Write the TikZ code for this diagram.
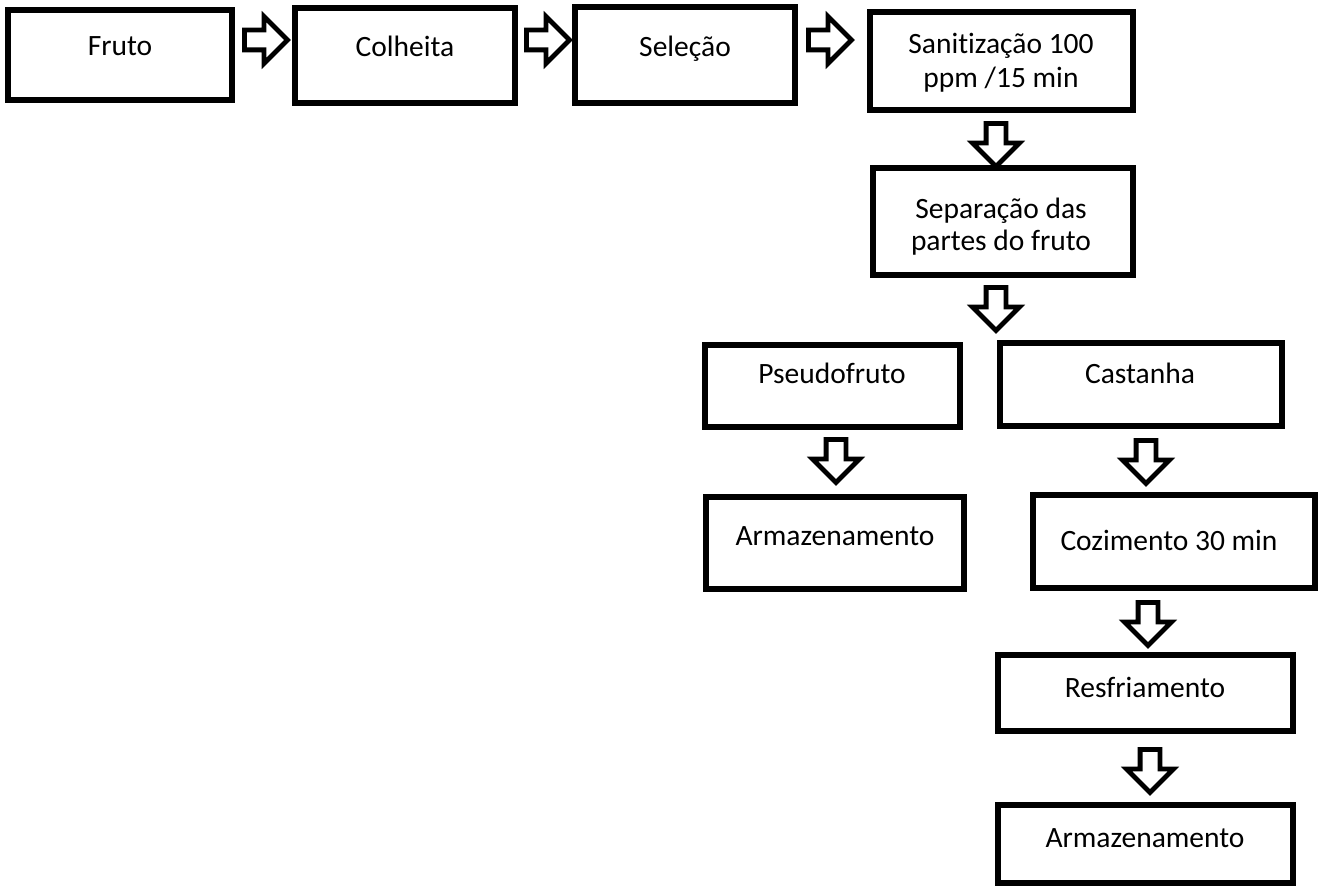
\documentclass[tikz,border=0pt]{standalone}
\usepackage{fontspec}
\setmainfont{Carlito}[Ligatures={NoCommon}]
\usetikzlibrary{shapes.arrows}
\tikzset{
  box/.style={draw=black, line width=6pt, inner sep=0pt, fill=white},
  txt/.style={inner sep=0pt, font=\fontsize{29.5}{34}\selectfont, align=center},
  blockarrow/.style={single arrow, draw=black, fill=white, line width=4.8pt,
    inner xsep=0pt, inner ysep=7.5pt, minimum height=43pt,
    single arrow head extend=13.5pt, single arrow tip angle=90},
  downarrow/.style={blockarrow, rotate=-90}
}
\newcommand\flowbox[5]{%
  \node[box, minimum width={#4-#2}, minimum height={#5-#3}] (#1) at ({(#2+#4)/2},{(#3+#5)/2}) {};}
\begin{document}
\begin{tikzpicture}[x=1pt,y=-1pt]
\useasboundingbox (0,0) rectangle (1319,888);
% boxes
\flowbox{fruto}{8}{10}{232}{100}
\flowbox{colheita}{295}{8}{515}{103}
\flowbox{selecao}{575}{7}{795}{103}
\flowbox{sanit}{870}{12}{1133}{110}
\flowbox{separa}{873}{168}{1133}{275}
\flowbox{pseudo}{705}{345}{960}{427}
\flowbox{castanha}{1000}{343}{1282}{426}
\flowbox{armA}{706}{497}{964}{589}
\flowbox{cozim}{1033}{495}{1315}{588}
\flowbox{resfri}{998}{655}{1293}{731}
\flowbox{armB}{998}{805}{1293}{883}
% texts (anchor=base: baseline of the last line)
\node[txt, anchor=base] (fruto-t) at (120,56) {Fruto};
\node[txt, anchor=base] (colheita-t) at (405,57) {Colheita};
\node[txt, anchor=base] (selecao-t) at (685,57) {Seleção};
\node[txt, anchor=base] (sanit-t) at (1001,88) {Sanitização 100\\ppm /15 min};
\node[txt, anchor=base, font=\fontsize{29.5}{32}\selectfont] (separa-t) at (1001,250) {Separação das\\partes do fruto};
\node[txt, anchor=base] (pseudo-t) at (832,383) {Pseudofruto};
\node[txt, anchor=base] (castanha-t) at (1140,383) {Castanha};
\node[txt, anchor=base] (armA-t) at (835,545) {Armazenamento};
\node[txt, anchor=base] (cozim-t) at (1169,550) {Cozimento 30 min};
\node[txt, anchor=base] (resfri-t) at (1145,697) {Resfriamento};
\node[txt, anchor=base] (armB-t) at (1145,847) {Armazenamento};
% block arrows
\node[blockarrow] (a1) at (261,40) {};
\node[blockarrow] (a2) at (543,40) {};
\node[blockarrow] (a3) at (825,40) {};
\node[downarrow] (a4) at (996,140) {};
\node[downarrow] (a5) at (996,304) {};
\node[downarrow] (a6) at (836,456) {};
\node[downarrow] (a7) at (1146,457) {};
\node[downarrow] (a8) at (1148,619) {};
\node[downarrow] (a9) at (1150,766) {};
\end{tikzpicture}
\end{document}
